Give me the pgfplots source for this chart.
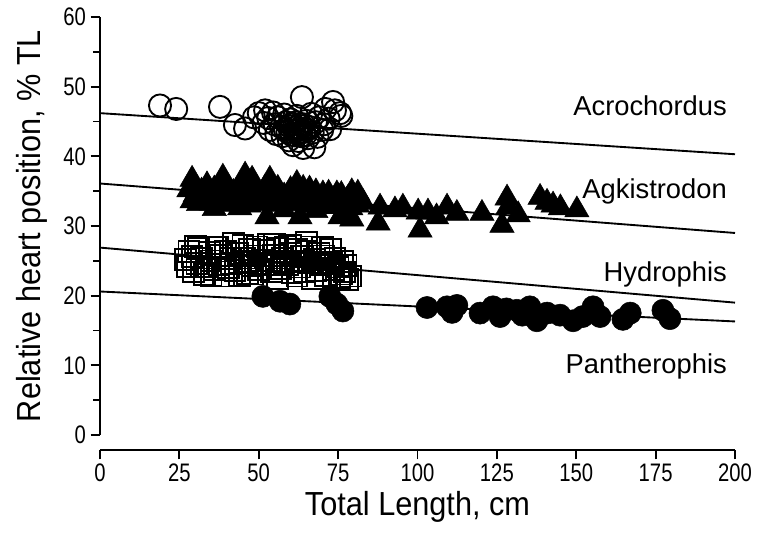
\documentclass[border=0pt]{standalone}
\usepackage{pgfplots}
\pgfplotsset{compat=1.18}
\usepackage{fontspec}
\setmainfont{Liberation Sans}
\newfontfamily\tickfont{Liberation Sans}[FakeStretch=0.8]
\newfontfamily\labfont{Liberation Sans}[FakeStretch=0.92]
\begin{document}
\begin{tikzpicture}
\begin{axis}[
    at={(0,0)}, anchor=south west,
    scale only axis,
    width=476.25pt, height=313.5pt,
    xmin=0, xmax=200, ymin=0, ymax=60,
    axis lines=left,
    axis line style={-, line width=1.4pt},
    axis x line shift=11.25pt,
    xtick={0,25,...,200},
    ytick={0,10,...,60},
    minor y tick num=1,
    tick align=outside,
    major tick length=7pt,
    minor tick length=5pt,
    tick style={line width=1.4pt, black},
    ticklabel style={font=\tickfont\fontsize{19}{19}\selectfont},
    /pgf/number format/assume math mode=true,
    xlabel={Total Length, cm},
    ylabel={Relative heart position, \% TL},
    ylabel shift=5pt,
    label style={font=\labfont\fontsize{25}{25}\selectfont},
    clip=false,
]
% regression lines
\addplot[black, line width=1.4pt] coordinates {(0,46.2) (200,40.3)};
\addplot[black, line width=1.4pt] coordinates {(0,36.1) (200,29.0)};
\addplot[black, line width=1.4pt] coordinates {(0,26.9) (200,19.0)};
\addplot[black, line width=1.4pt] coordinates {(0,20.6) (200,16.3)};

% Acrochordus
\addplot[only marks, mark=o, mark size=8.3pt, mark options={line width=1.4pt, black}] coordinates {
(18.9,47.3)(24,46.8)(37.8,47.1)(42.5,44.5)(45.7,44.0)(48.5,45.6)(50,46.2)(51.5,44.8)
(52,46.6)(53,45.5)(53.5,43.8)(54.5,46.3)(55,44.6)(55.5,43.2)(56,45.6)(57,44.2)
(57.5,42.9)(58,46.0)(58.5,44.9)(59,43.5)(59.5,42.3)(60,45.3)(60.8,41.6)(61,44.1)
(61.5,43.0)(62,45.8)(62.5,42.2)(63,44.6)(63.6,48.5)(64,41.2)(64.3,43.5)(65,45.1)
(65.5,42.6)(66,44.2)(66.5,46.1)(67,43.4)(67.5,41.3)(68,44.9)(68.5,42.8)(69,45.6)
(70,43.8)(70.5,44.6)(71,46.8)(72,45.4)(72.5,43.9)(73.4,47.8)(74,46.6)(75.6,46.2)(76,45.8)
(58.2,43.9)(59.3,44.4)(60.2,43.1)(60.6,44.7)(61.3,43.6)(61.8,44.9)(62.3,43.3)(62.8,44.0)
(63.3,42.9)(63.8,44.3)(64.6,43.0)(65.2,43.8)(59.8,43.8)(62.1,43.7)(63.1,43.4)(64.1,44.6)
};

% Agkistrodon
\addplot[only marks, mark=triangle*, mark size=10.5pt, mark options={black}] coordinates {
(29,36.7)(33.7,35.9)(38.7,37.0)(45.7,37.3)(47.9,36.7)(53.5,36.7)(56,35.4)(62,36.1)
(66,35.3)(70.2,34.6)(74.6,34.6)(79.3,34.9)(81.2,34.7)
(28,35.2)(30,34.5)(32,35.0)(34,34.3)(36,35.3)(38,34.6)(40,35.5)(42,34.8)(44,35.6)
(46,34.4)(48,35.4)(50,34.7)(52,35.5)(54,34.5)(56,35.0)(58,34.3)(60,35.2)(62,34.6)
(64,35.4)(66,34.2)(68,34.9)(70,33.9)(72,34.7)(74,33.8)(76,34.5)(78,33.9)(80,34.2)
(29,33.6)(31,33.2)(33,33.8)(35,33.3)(37,33.7)(39,33.1)(41,33.9)(43,33.4)(45,33.5)
(47,33.0)(49,33.8)(51,33.2)(53,33.6)(55,33.1)(57,33.7)(59,33.3)(61,33.9)(63,33.2)
(65,33.5)(67,33.0)(69,33.4)(71,32.9)(73,33.3)(75,32.8)(77,33.2)(79,32.6)(81,33.0)
(52.6,31.3)(63,31.3)(75.6,31.3)(79.3,31.0)(36,32.5)(58,32.3)(44,32.6)(68,32.2)
(82.8,33.4)(88.2,32.7)(87.6,30.4)(92.9,32.3)(95.4,32.7)(100.2,32.0)(100.8,29.4)
(103.3,32.0)(106,31.3)(109.3,32.7)(112.4,31.8)(120.3,31.8)(128.2,34.0)(128.5,32.7)
(126.6,30.1)(131.7,31.6)(138.6,34.1)(140.8,33.4)(142.7,33.0)(145,32.6)(150.2,32.3)
};

% Hydrophis
\addplot[only marks, mark=square, mark size=7.8pt, mark options={line width=1.4pt, black}] coordinates {
(27,25.2)(27.5,24.2)(28,26.3)(29,25.6)(29.5,23.4)(30.5,24.6)(31,26.8)(32,25.4)
(33,23.0)(33.5,24.1)(34.5,26.2)(35,25.0)(36,23.7)(36.5,26.9)(37.5,24.5)(38,25.8)
(39,22.8)(39.5,26.4)(40.5,24.0)(41,25.3)(42,27.5)(42.5,23.6)(43.5,26.1)(44,24.7)
(45,27.2)(45.5,25.4)(46.5,23.2)(47,26.6)(48,24.3)(48.5,25.7)(49.5,27.0)(50,23.8)
(51,25.1)(51.5,26.5)(52.5,24.4)(53,27.3)(54,23.4)(54.5,25.8)(55.5,24.9)(56,26.8)
(57,23.9)(57.5,25.4)(58.5,27.0)(59,24.5)(60,26.1)(60.5,23.3)(61.5,25.0)(62,26.7)
(63,24.1)(63.5,25.6)(64.5,23.5)(65,26.3)(66,24.7)(66.5,27.0)(67.5,25.2)(68,23.6)
(69,26.1)(69.5,24.4)(70.5,25.7)(71,22.9)(72,24.8)(72.5,26.6)(73.5,23.8)(74,25.3)
(75,24.1)(75.5,22.6)(76.5,24.9)(77,23.4)(78,22.3)(77.5,24.3)(32,24.2)(35,22.9)
(44,22.9)(48,23.1)(56,22.4)(62,22.8)(67,22.5)(37,27.0)(55,27.4)(60,27.2)(65,27.6)
(70,26.9)(30,27.1)(41.5,24.6)(46,24.9)(50.5,24.6)(53.5,25.0)(58,24.8)(64,24.9)
(68.5,24.8)(73,24.6)(76,23.1)(79,22.8)
};

% Pantherophis
\addplot[only marks, mark=*, mark size=8.3pt, mark options={black}] coordinates {
(51.3,19.9)(56.7,19.2)(59.8,18.8)(72.4,19.9)(74.6,18.8)(76.5,17.8)(103,18.3)(109.3,18.4)
(112.4,18.6)(110.9,17.6)(119.7,17.5)(123.8,18.4)(126,17.0)(128,18.1)(131.3,17.9)(133,17.2)
(135.4,18.4)(137.6,16.4)(140.8,17.5)(144.9,17.2)(149,16.4)(152,17.0)(155.3,18.4)(157.5,17.0)
(164.7,16.6)(167,17.5)(177.3,17.9)(179.5,16.7)
};

\node[anchor=east, inner sep=0pt, font=\fontsize{20.5}{20.5}\selectfont] at (axis cs:197.5,47.3) {Acrochordus};
\node[anchor=east, inner sep=0pt, font=\fontsize{20.5}{20.5}\selectfont] at (axis cs:197.5,34.9) {Agkistrodon};
\node[anchor=east, inner sep=0pt, font=\fontsize{20.5}{20.5}\selectfont] at (axis cs:197.5,23.1) {Hydrophis};
\node[anchor=east, inner sep=0pt, font=\fontsize{20.5}{20.5}\selectfont] at (axis cs:197.5,9.8) {Pantherophis};
\end{axis}
\path (-75pt,-89.25pt) rectangle (497.25pt,326.25pt);
\end{tikzpicture}
\end{document}
